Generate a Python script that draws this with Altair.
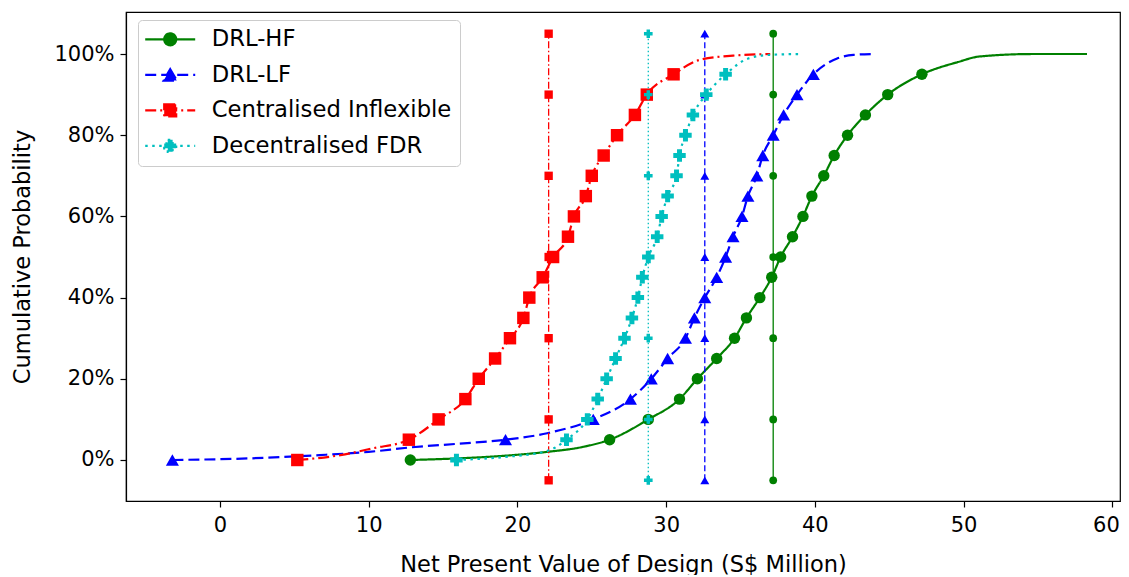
import altair as alt
import pandas as pd

# ---------------- data ----------------
levels = list(range(0, 100, 5))  # marker levels (%)

names = ["DRL-HF", "DRL-LF", "Centralised Inflexible", "Decentralised FDR"]
colors = ["#008000", "#0000ff", "#ff0000", "#00bfbf"]

# x of the markers at each 5% level
hf_x = [12.8, 26.2, 28.8, 30.9, 32.1, 33.4, 34.6, 35.4, 36.3, 37.1,
        37.7, 38.5, 39.2, 39.8, 40.6, 41.3, 42.2, 43.4, 44.9, 47.2]
lf_x = [-3.2, 19.2, 25.1, 27.6, 29.0, 30.1, 31.3, 31.9, 32.6, 33.4,
        34.0, 34.5, 35.1, 35.5, 36.1, 36.5, 37.2, 37.9, 38.8, 39.9]
ci_x = [5.2, 12.7, 14.7, 16.5, 17.4, 18.5, 19.5, 20.4, 20.8, 21.7,
        22.4, 23.4, 23.8, 24.6, 25.0, 25.8, 26.7, 27.9, 28.7, 30.5]
fdr_x = [15.9, 23.3, 24.7, 25.4, 26.0, 26.6, 27.2, 27.7, 28.1, 28.4,
         28.8, 29.4, 29.7, 30.1, 30.7, 30.9, 31.3, 31.8, 32.7, 34.0]

# extra points of the curves between markers (tails)
hf_extra_x = [16.0, 19.7, 22.0, 24.5, 49.6, 51.1, 54.7, 58.3]
hf_extra_p = [0.4, 1.2, 2.0, 3.3, 98.0, 99.4, 100.0, 100.0]
lf_extra_x = [2.0, 6.7, 10.0, 12.8, 16.0, 22.0, 41.5, 42.6, 43.9]
lf_extra_p = [0.4, 1.2, 2.0, 3.1, 4.0, 6.6, 98.9, 99.8, 100.0]
ci_extra_x = [8.1, 10.3, 32.3, 34.5, 37.0]
ci_extra_p = [1.2, 2.9, 98.6, 99.6, 100.0]
fdr_extra_x = [19.0, 22.0, 35.6, 37.0, 39.0]
fdr_extra_p = [0.7, 2.2, 99.0, 99.8, 100.0]

# mean lines
mean_x = [37.2, 32.6, 22.1, 28.8]
mean_levels = [-5, 10, 30, 50, 70, 90, 105]

x_ticks = [0, 10, 20, 30, 40, 50, 60]
y_ticks = [0, 20, 40, 60, 80, 100]

# ---------------- styles ----------------
shapes = ["circle", "triangle-up", "square", "cross"]
marker_sizes = [130, 170, 155, 155]
mean_marker_sizes = [60, 80, 70, 75]
dashes = [[1, 0], [11, 5], [11, 4, 2, 4], [2.5, 4.5]]
thin_dashes = [[1, 0], [6, 3], [7, 2.5, 1.5, 2.5], [1.5, 2.5]]
legend_paths = [
    "M-1.7,0H5.3M0.96,0A0.84,0.84,0,1,1,2.64,0A0.84,0.84,0,1,1,0.96,0Z",
    "M-1.7,0H5.3M1.8,-0.8L2.72,0.8L0.88,0.8Z",
    "M-1.7,0H5.3M0.96,-0.84H2.64V0.84H0.96Z",
    "M-1.7,0H5.3M1.46,-0.84H2.14V-0.34H2.64V0.34H2.14V0.84H1.46V0.34H0.96V-0.34H1.46Z",
]

FONT = "DejaVu Sans"

xs = [hf_x, lf_x, ci_x, fdr_x]
extras = [(hf_extra_x, hf_extra_p), (lf_extra_x, lf_extra_p),
          (ci_extra_x, ci_extra_p), (fdr_extra_x, fdr_extra_p)]

X = alt.X("x:Q",
          scale=alt.Scale(domain=[-6.32, 60.52], nice=False, zero=False),
          axis=alt.Axis(values=x_ticks, title="Net Present Value of Design (S$ Million)",
                        grid=False, format="d", labelFlush=10, labelFlushOffset=7))
Y = alt.Y("p:Q",
          scale=alt.Scale(domain=[-10.1, 110.35], nice=False, zero=False),
          axis=alt.Axis(values=y_ticks, title="Cumulative Probability", grid=False,
                        labelExpr="datum.value + '%'"))

layers = []
for i, name in enumerate(names):
    mk = pd.DataFrame({"x": xs[i], "p": levels})
    ex = pd.DataFrame({"x": extras[i][0], "p": extras[i][1]})
    line_df = pd.concat([mk, ex]).sort_values(["x", "p"]).reset_index(drop=True)
    mean_df = pd.DataFrame({"x": [mean_x[i]] * len(mean_levels), "p": mean_levels})

    layers.append(
        alt.Chart(line_df).mark_line(color=colors[i], strokeWidth=2.2,
                                     strokeDash=dashes[i], interpolate="monotone")
        .encode(x=X, y=Y)
    )
    layers.append(
        alt.Chart(mk).mark_point(filled=True, opacity=1, shape=shapes[i],
                                 size=marker_sizes[i], color=colors[i])
        .encode(x=X, y=Y)
    )
    layers.append(
        alt.Chart(mean_df).mark_line(color=colors[i], strokeWidth=1.3,
                                     strokeDash=thin_dashes[i])
        .encode(x=X, y=Y, order="p:Q")
    )
    layers.append(
        alt.Chart(mean_df).mark_point(filled=True, opacity=1, shape=shapes[i],
                                      size=mean_marker_sizes[i], color=colors[i])
        .encode(x=X, y=Y)
    )

legend = alt.Legend(title=None, orient="none", legendX=12, legendY=8,
                    symbolSize=204, symbolStrokeWidth=2.2, symbolOpacity=1,
                    labelOffset=43, labelFontSize=22.7, labelFont=FONT,
                    labelColor="black", labelLimit=500, padding=8, rowPadding=11.5,
                    fillColor="white", strokeColor="#cccccc", cornerRadius=4)
leg_df = pd.DataFrame({"series": names})
layers.append(
    alt.Chart(leg_df).mark_point(filled=True, opacity=0)
    .encode(
        fill=alt.Fill("series:N", scale=alt.Scale(domain=names, range=colors), legend=legend),
        stroke=alt.Stroke("series:N", scale=alt.Scale(domain=names, range=colors), legend=legend),
        shape=alt.Shape("series:N", scale=alt.Scale(domain=names, range=legend_paths), legend=legend),
        strokeDash=alt.StrokeDash("series:N", scale=alt.Scale(domain=names, range=dashes), legend=legend),
    )
)

chart = (
    alt.layer(*layers)
    .properties(width=994, height=489,
                autosize=alt.AutoSizeParams(type="none"),
                padding={"left": 118, "top": 4, "right": 1, "bottom": 74})
    .configure_view(stroke="black", strokeWidth=1.2)
    .configure_axis(domainColor="black", domainWidth=1.2, tickColor="black",
                    tickSize=6, tickWidth=1.2, labelFont=FONT, titleFont=FONT,
                    labelFontSize=21, titleFontSize=22.5, labelColor="black",
                    titleColor="black", titleFontWeight="normal")
    .configure_axisY(titlePadding=19, labelPadding=6)
    .configure_axisX(titlePadding=18, labelPadding=7)
)

chart.save("out.html", embed_options={"renderer": "svg", "actions": False})
